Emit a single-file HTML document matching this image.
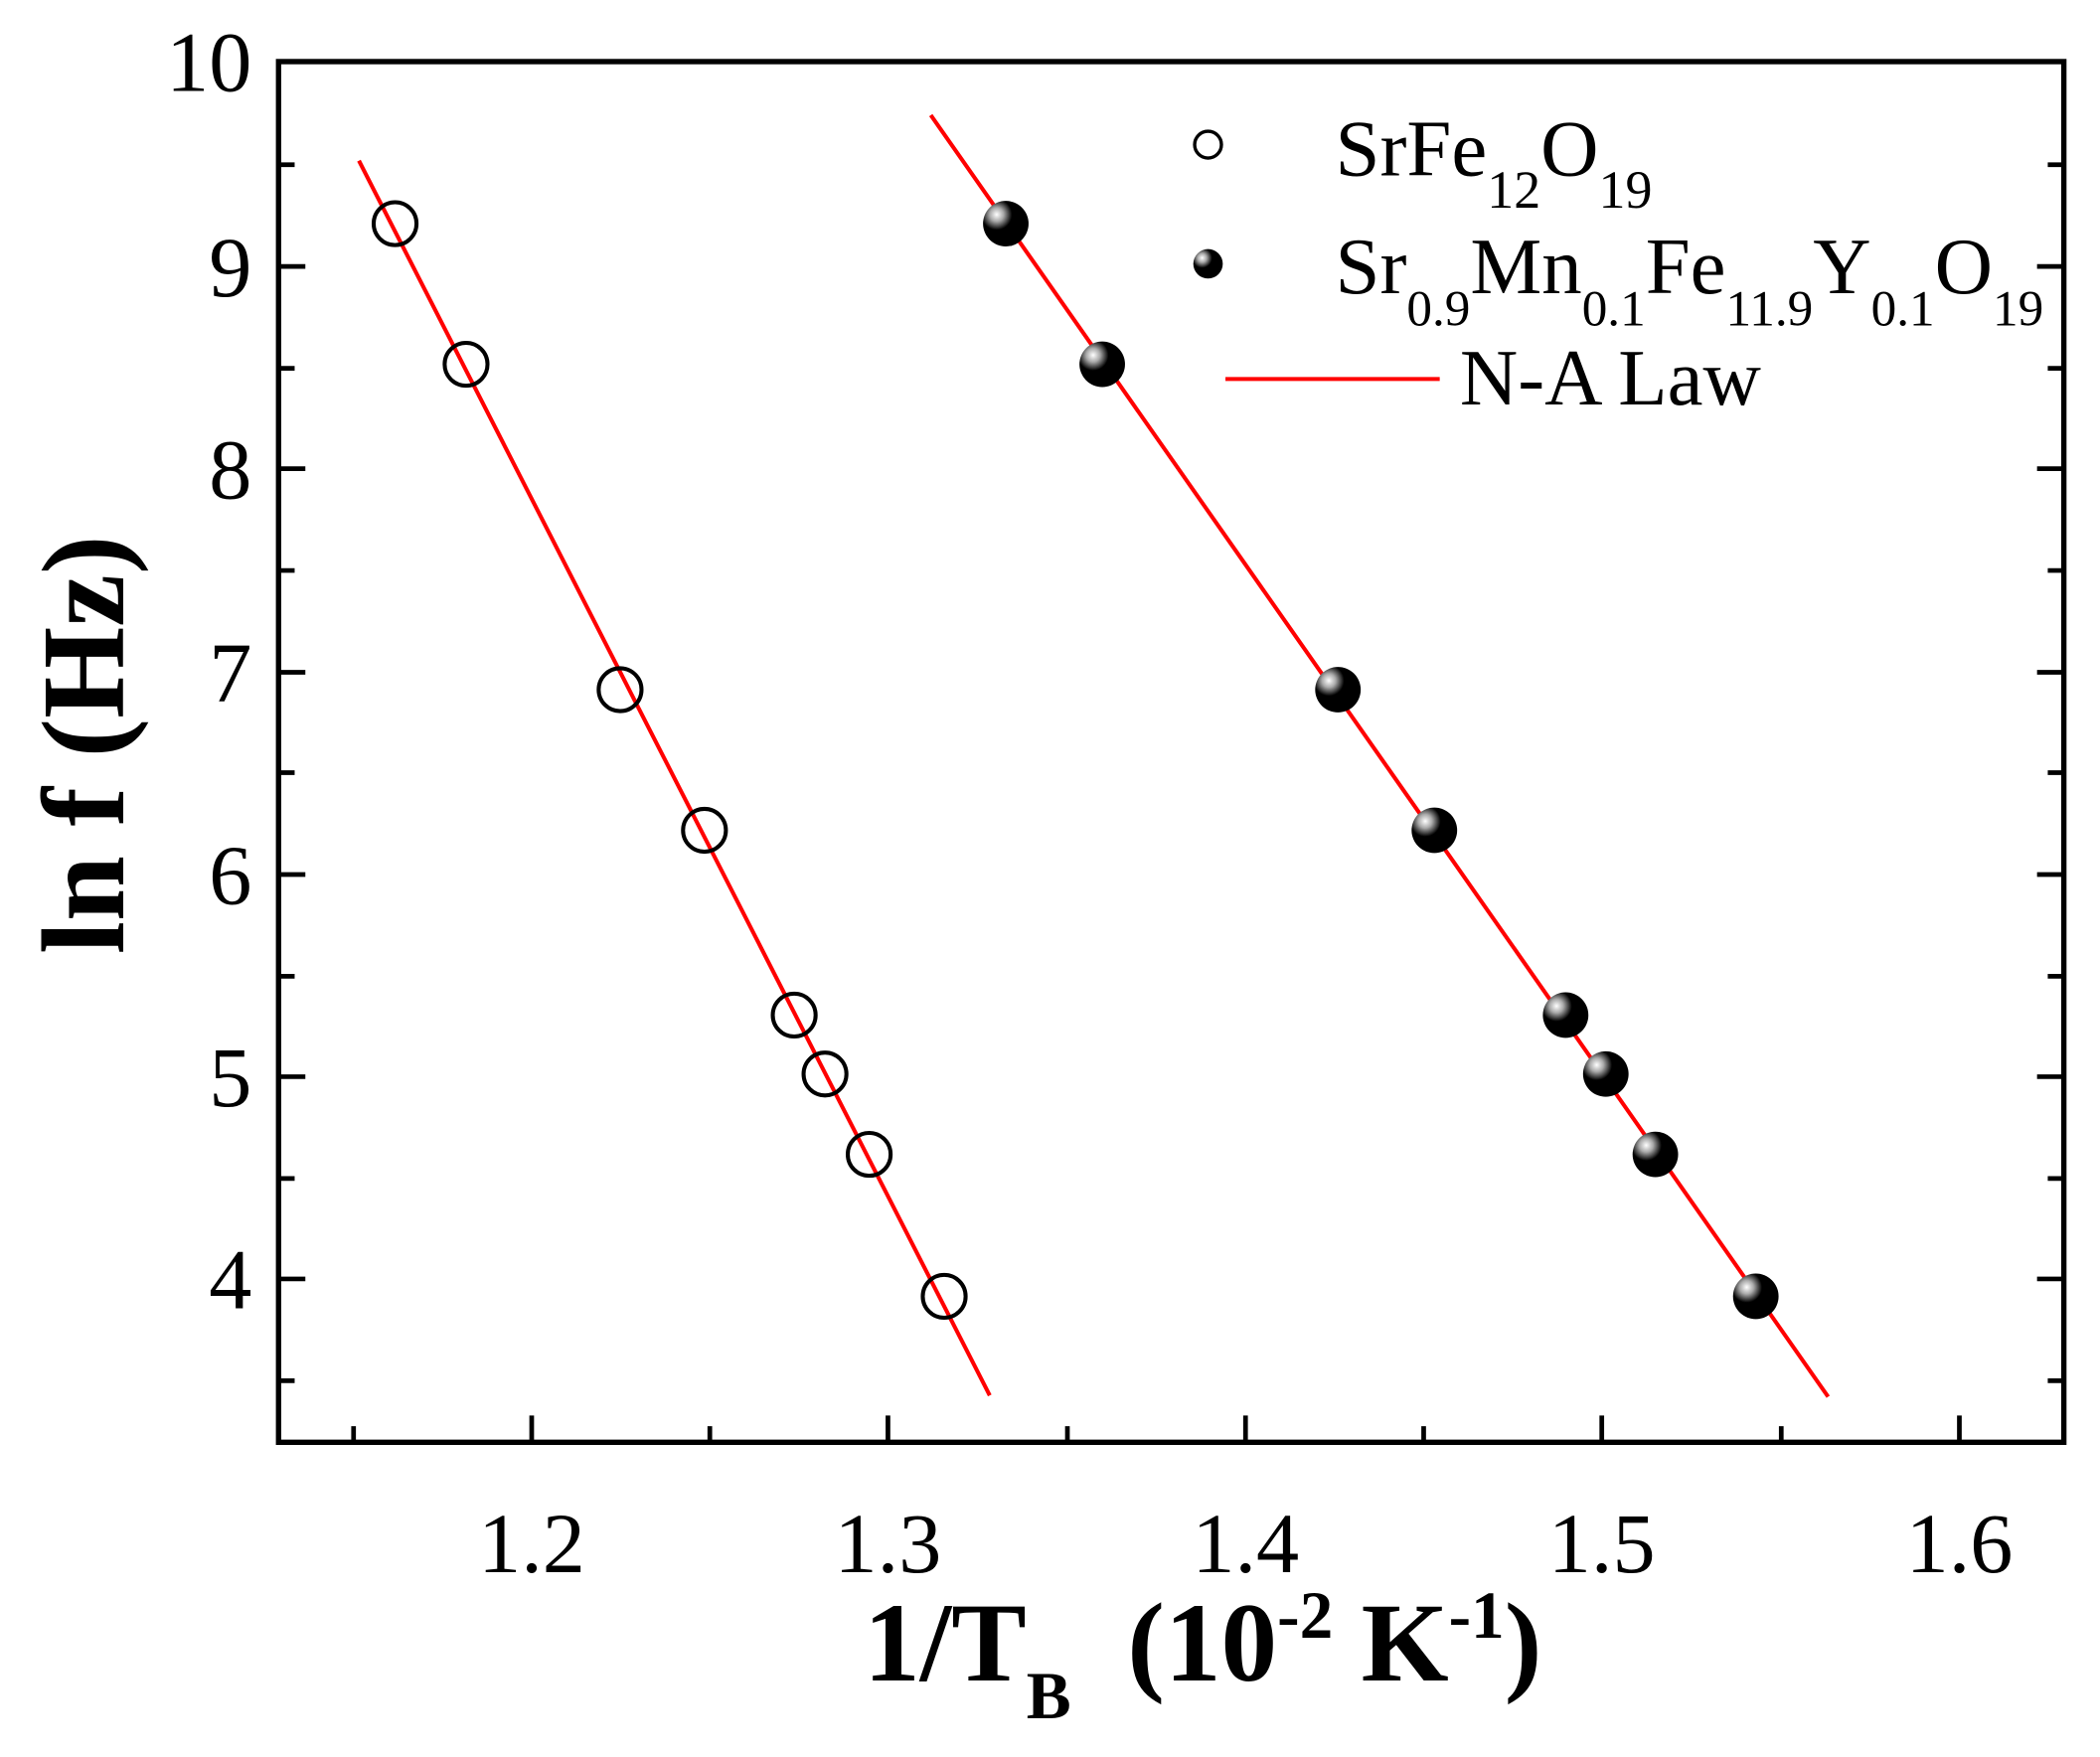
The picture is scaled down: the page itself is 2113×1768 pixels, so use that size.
<!DOCTYPE html>
<html><head><style>html,body{margin:0;padding:0;background:#fff;}svg{display:block}</style></head><body>
<svg width="2113" height="1768" viewBox="0 0 1568 1312" preserveAspectRatio="none" xmlns="http://www.w3.org/2000/svg" font-family="Liberation Serif, serif">
<defs>
<radialGradient id="g" cx="0.3" cy="0.3" r="0.75">
<stop offset="0" stop-color="#fff"/><stop offset="0.2" stop-color="#aaa"/><stop offset="0.45" stop-color="#000"/><stop offset="1" stop-color="#000"/>
</radialGradient>
</defs>
<rect x="208" y="46" width="1333" height="1031" fill="none" stroke="#000" stroke-width="4"/>
<g stroke="#000" stroke-width="3.5">
<path d="M208 199h20M208 350h20M208 502h20M208 653h20M208 804h20M208 955h20M1541 199h-20M1541 350h-20M1541 502h-20M1541 653h-20M1541 804h-20M1541 955h-20"/>
<path d="M208 123h12M208 275h12M208 426h12M208 577h12M208 729h12M208 880h12M208 1031h12M1541 123h-12M1541 275h-12M1541 426h-12M1541 577h-12M1541 729h-12M1541 880h-12M1541 1031h-12"/>
<path d="M397 1077v-20M663 1077v-20M930 1077v-20M1196 1077v-20M1463 1077v-20"/>
<path d="M264 1077v-12M530 1077v-12M797 1077v-12M1063 1077v-12M1330 1077v-12"/>
</g>
<g font-size="64" text-anchor="end">
<text x="188" y="68">10</text><text x="188" y="221">9</text><text x="188" y="372">8</text><text x="188" y="524">7</text><text x="188" y="675">6</text><text x="188" y="826">5</text><text x="188" y="977">4</text>
</g>
<g font-size="64" text-anchor="middle">
<text x="397" y="1174">1.2</text><text x="663" y="1174">1.3</text><text x="930" y="1174">1.4</text><text x="1196" y="1174">1.5</text><text x="1463" y="1174">1.6</text>
</g>
<text transform="translate(92,556) rotate(-90)" font-size="88" font-weight="bold" text-anchor="middle">ln f  (Hz)</text>
<text x="645" y="1255" font-size="84" font-weight="bold">1/T<tspan font-size="50" dy="28">B</tspan><tspan dy="-28" xml:space="preserve">  (10</tspan><tspan font-size="50" dy="-32">-2</tspan><tspan dy="32"> K</tspan><tspan font-size="50" dy="-32">-1</tspan><tspan dy="32">)</tspan></text>
<g stroke="#ff0000" stroke-width="3">
<line x1="268" y1="120" x2="739" y2="1042"/>
<line x1="695" y1="86" x2="1365" y2="1043"/>
<line x1="915" y1="283" x2="1075" y2="283"/>
</g>
<g fill="none" stroke="#000" stroke-width="3">
<circle cx="295" cy="167" r="16"/><circle cx="348" cy="272" r="16"/><circle cx="463" cy="515" r="16"/><circle cx="526" cy="620" r="16"/><circle cx="593" cy="758" r="16"/><circle cx="616" cy="802" r="16"/><circle cx="649" cy="862" r="16"/><circle cx="705" cy="968" r="16"/>
<circle cx="902" cy="108" r="10" stroke-width="2.5"/>
</g>
<g fill="url(#g)">
<circle cx="751" cy="167" r="17"/><circle cx="823" cy="272" r="17"/><circle cx="999" cy="515" r="17"/><circle cx="1071" cy="620" r="17"/><circle cx="1169" cy="758" r="17"/><circle cx="1199" cy="802" r="17"/><circle cx="1236" cy="862" r="17"/><circle cx="1311" cy="968" r="17"/>
<circle cx="902" cy="197" r="11"/>
</g>
<g font-size="60">
<text x="997" y="131">SrFe<tspan font-size="40" dy="24">12</tspan><tspan dy="-24">O</tspan><tspan font-size="40" dy="24">19</tspan></text>
<text x="997" y="219">Sr<tspan font-size="38" dy="24">0.9</tspan><tspan dy="-24">Mn</tspan><tspan font-size="38" dy="24">0.1</tspan><tspan dy="-24">Fe</tspan><tspan font-size="38" dy="24">11.9</tspan><tspan dy="-24">Y</tspan><tspan font-size="38" dy="24">0.1</tspan><tspan dy="-24">O</tspan><tspan font-size="38" dy="24">19</tspan></text>
<text x="1090" y="302">N-A Law</text>
</g>
</svg>
</body></html>
